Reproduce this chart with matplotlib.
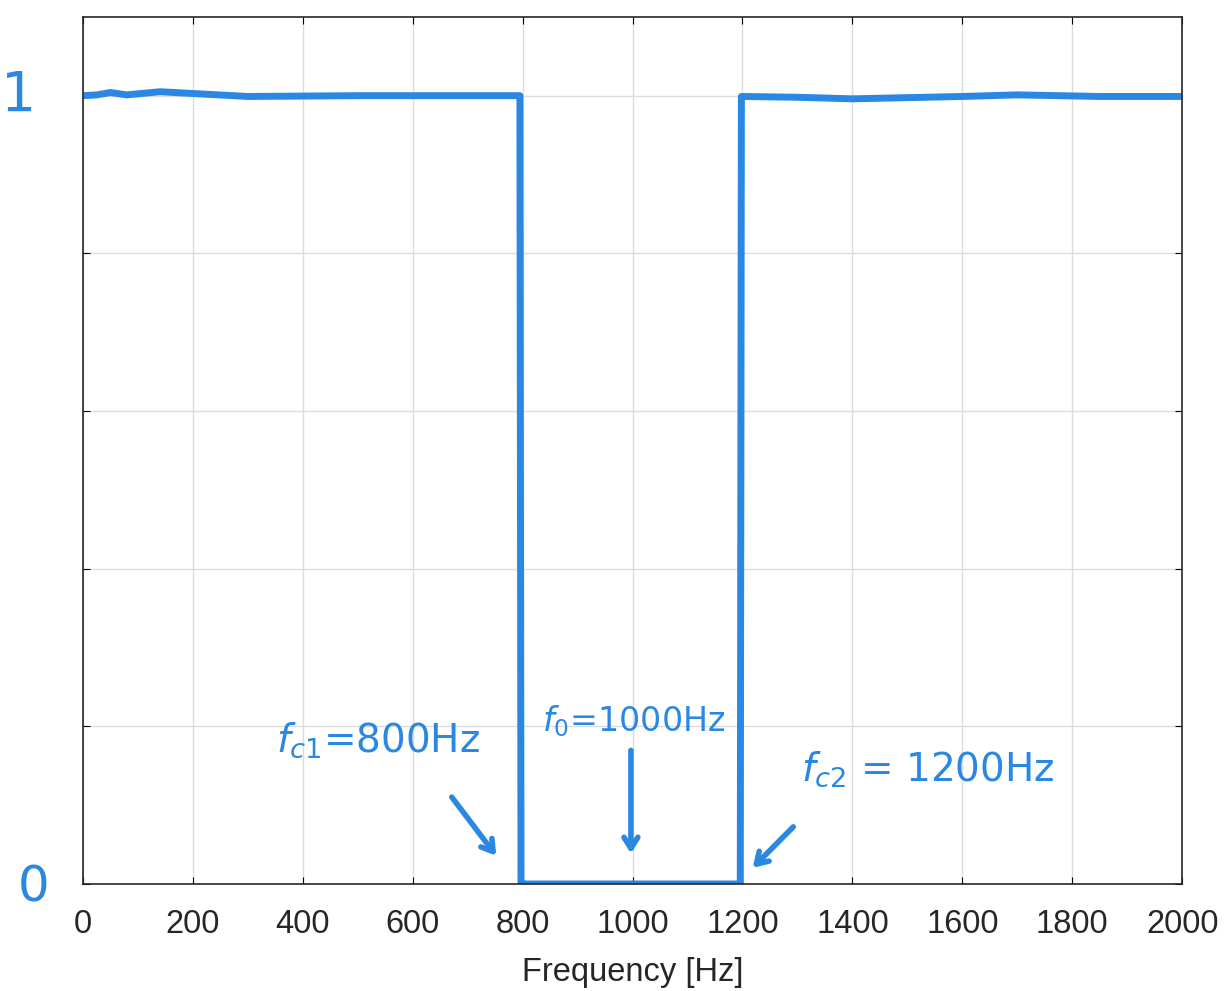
import matplotlib.pyplot as plt

# hand-drawn band-stop response
freq = [0, 25, 50, 80, 140, 300, 500, 795, 797, 800, 1000, 1196, 1198, 1300, 1400, 1600, 1700, 1850, 2000]
mag = [1.0, 1.001, 1.004, 1.001, 1.005, 0.999, 1.0, 1.0, 0.0, 0.0, 0.0, 0.0, 0.999, 0.998, 0.996, 0.999, 1.001, 0.999, 0.999]

xticks = [0, 200, 400, 600, 800, 1000, 1200, 1400, 1600, 1800, 2000]
yticks = [0, 0.2, 0.4, 0.6, 0.8, 1.0]

notes = [r"$f_{c1}$=800Hz", r"$f_0$=1000Hz", r"$f_{c2}$ = 1200Hz"]
note_x = [537, 1002, 1536]
note_y = [0.183, 0.206, 0.145]
note_size = [28, 24, 28]
arrow_from = [(668, 0.113), (997, 0.173), (1296, 0.075)]
arrow_to = [(755, 0.033), (997, 0.035), (1215, 0.018)]

blue = "#2b88e2"

fig = plt.figure(figsize=(12.24, 9.91), dpi=100)
ax = fig.add_axes([0.0678, 0.108, 0.898, 0.875])

ax.plot(freq, mag, color=blue, lw=5, solid_capstyle="round", solid_joinstyle="round")

ax.set_xlim(0, 2000)
ax.set_ylim(0, 1.1)
ax.set_xticks(xticks)
ax.set_yticks(yticks)
ax.set_yticklabels([])
ax.tick_params(direction="in", top=True, right=True, length=5, labelsize=23.5,
               labelcolor="#262626", pad=18)
for lbl in ax.get_xticklabels():
    lbl.set_family("Liberation Sans")
ax.grid(True, color="#dcdcdc", lw=1)
for s in ax.spines.values():
    s.set_color("#262626")
    s.set_linewidth(1.2)
ax.set_xlabel("Frequency [Hz]", fontsize=23.5, family="Liberation Sans", color="#262626", labelpad=12)

# handwritten notes
for t, x, y, fs in zip(notes, note_x, note_y, note_size):
    ax.text(x, y, t, color=blue, fontsize=fs, ha="center", va="center")
for a, b in zip(arrow_from, arrow_to):
    ax.annotate("", xy=b, xytext=a,
                arrowprops=dict(arrowstyle="->,head_length=0.8,head_width=0.5", color=blue, lw=4))
ax.text(-118, 1.0, "1", color=blue, fontsize=40, ha="center", va="center", clip_on=False)
ax.text(-90, -0.005, "0", color=blue, fontsize=36, ha="center", va="center", clip_on=False)

fig.savefig("out.png", dpi=100)
